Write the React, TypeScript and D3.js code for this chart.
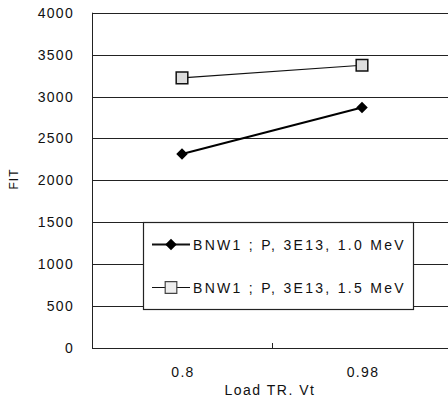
import React, { useEffect, useRef } from "react";
import * as d3 from "d3";

// categories on the x axis (Load TR. Vt)
const categories = ["0.8", "0.98"];
// FIT values
const series1MeV = [2315, 2870];
const series15MeV = [3222, 3373];
const seriesNames = ["BNW1 ; P, 3E13, 1.0 MeV", "BNW1 ; P, 3E13, 1.5 MeV"];
const yTicks = [0, 500, 1000, 1500, 2000, 2500, 3000, 3500, 4000];

const App = () => {
  const svgRef = useRef<SVGSVGElement>(null);

  useEffect(() => {
    document.body.style.margin = "0";
    const svg = d3.select(svgRef.current);
    svg.selectAll("*").remove();

    const width = 448;
    const height = 401;
    const margin = { top: 12.7, right: -4, bottom: 53, left: 92 };
    const font = "'Liberation Sans', Arial, sans-serif";

    const x = d3
      .scaleBand()
      .domain(categories)
      .range([margin.left, width - margin.right]);

    const y = d3
      .scaleLinear()
      .domain([0, 4000])
      .range([height - margin.bottom, margin.top]);

    //gridlines
    svg
      .append("g")
      .selectAll("line")
      .data(yTicks)
      .enter()
      .append("line")
      .attr("x1", margin.left)
      .attr("x2", width)
      .attr("y1", (d) => Math.round(y(d)) + 0.5)
      .attr("y2", (d) => Math.round(y(d)) + 0.5)
      .attr("stroke", "#222")
      .attr("stroke-width", 1);

    //left axis line
    svg
      .append("line")
      .attr("x1", margin.left + 0.5)
      .attr("x2", margin.left + 0.5)
      .attr("y1", y(4000))
      .attr("y2", y(0))
      .attr("stroke", "#222");

    //y tick labels
    svg
      .append("g")
      .selectAll("text")
      .data(yTicks)
      .enter()
      .append("text")
      .attr("x", 74)
      .attr("y", (d) => y(d) + 5)
      .attr("text-anchor", "end")
      .style("font-family", font)
      .style("font-size", "14px")
      .style("letter-spacing", "1.3px")
      .attr("fill", "#111")
      .text((d) => String(d));

    //x ticks at band boundaries (pointing inward)
    const bounds = [x(categories[1]) as number];
    svg
      .append("g")
      .selectAll("line")
      .data(bounds)
      .enter()
      .append("line")
      .attr("x1", (d) => Math.round(d) + 0.5)
      .attr("x2", (d) => Math.round(d) + 0.5)
      .attr("y1", y(0))
      .attr("y2", y(0) - 5)
      .attr("stroke", "#222");

    //x tick labels
    svg
      .append("g")
      .selectAll("text")
      .data(categories)
      .enter()
      .append("text")
      .attr("x", (d) => (x(d) as number) + x.bandwidth() / 2 + 1)
      .attr("y", 377)
      .attr("text-anchor", "middle")
      .style("font-family", font)
      .style("font-size", "14px")
      .style("letter-spacing", "1.3px")
      .attr("fill", "#111")
      .text((d) => d);

    //axis titles
    svg
      .append("text")
      .attr("x", 270)
      .attr("y", 395)
      .attr("text-anchor", "middle")
      .style("font-family", font)
      .style("font-size", "14px")
      .style("letter-spacing", "1.5px")
      .attr("fill", "#111")
      .text("Load TR. Vt");

    svg
      .append("text")
      .attr("transform", "rotate(-90)")
      .attr("x", -179)
      .attr("y", 18)
      .attr("text-anchor", "middle")
      .style("font-family", font)
      .style("font-size", "12px")
      .style("letter-spacing", "1px")
      .attr("fill", "#111")
      .text("FIT");

    const cx = (d: string) => (x(d) as number) + x.bandwidth() / 2;
    const line = d3
      .line<number>()
      .x((_, i) => cx(categories[i]))
      .y((d) => y(d));

    const diamond = d3.symbol().type(d3.symbolDiamond2).size(85);
    const square = d3.symbol().type(d3.symbolSquare).size(135);

    //series 1.5 MeV (squares)
    svg
      .append("path")
      .datum(series15MeV)
      .attr("fill", "none")
      .attr("stroke", "#111")
      .attr("stroke-width", 1.2)
      .attr("d", line);
    svg
      .append("g")
      .selectAll("path")
      .data(series15MeV)
      .enter()
      .append("path")
      .attr("transform", (d, i) => `translate(${cx(categories[i])},${y(d)})`)
      .attr("d", square)
      .attr("fill", "#ddd")
      .attr("stroke", "#111")
      .attr("stroke-width", 1.5);

    //series 1.0 MeV (diamonds)
    svg
      .append("path")
      .datum(series1MeV)
      .attr("fill", "none")
      .attr("stroke", "#000")
      .attr("stroke-width", 2)
      .attr("d", line);
    svg
      .append("g")
      .selectAll("path")
      .data(series1MeV)
      .enter()
      .append("path")
      .attr("transform", (d, i) => `translate(${cx(categories[i])},${y(d)})`)
      .attr("d", diamond)
      .attr("fill", "#000");

    //legend
    const lg = svg.append("g");
    lg.append("rect")
      .attr("x", 143.5)
      .attr("y", 222.5)
      .attr("width", 270)
      .attr("height", 87)
      .attr("fill", "#fff")
      .attr("stroke", "#222")
      .attr("stroke-width", 1.2);

    const rows = [244.5, 287.5];
    rows.forEach((ry, i) => {
      lg.append("line")
        .attr("x1", 152)
        .attr("x2", 190)
        .attr("y1", ry)
        .attr("y2", ry)
        .attr("stroke", "#111")
        .attr("stroke-width", i === 0 ? 2 : 1.2);
      lg.append("path")
        .attr("transform", `translate(171,${ry})`)
        .attr("d", i === 0 ? diamond : square)
        .attr("fill", i === 0 ? "#000" : "#eee")
        .attr("stroke", i === 0 ? "none" : "#444")
        .attr("stroke-width", 1.2);
      lg.append("text")
        .attr("x", 193)
        .attr("y", ry + 5)
        .style("font-family", font)
        .style("font-size", "14px")
        .style("letter-spacing", "2.3px")
        .attr("fill", "#111")
        .text(seriesNames[i]);
    });
  }, []);

  return <svg ref={svgRef} width={448} height={401} style={{ display: "block", background: "#fff" }} />;
};

export default App;
